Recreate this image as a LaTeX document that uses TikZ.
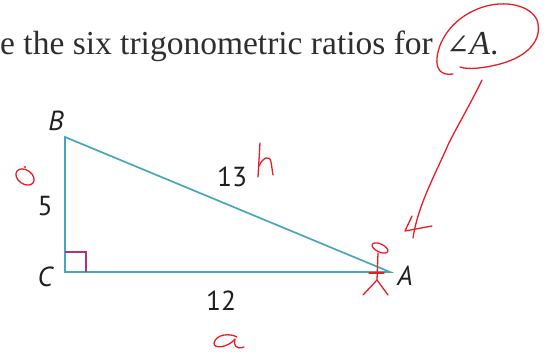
\documentclass[tikz,border=0pt]{standalone}
\usepackage{fontspec}
\setmainfont{Liberation Serif}
\newfontfamily\lblfont{PT Sans}
\newfontfamily\symfont{DejaVu Serif}
\definecolor{tealline}{HTML}{46A7BC}
\definecolor{rtmag}{HTML}{B2327E}
\definecolor{pen}{HTML}{EC1C24}
\begin{document}
\begin{tikzpicture}[x=1pt,y=-1pt,
  side/.style={draw=tealline,line width=1.7pt,line join=miter},
  rtmark/.style={draw=rtmag,line width=1.4pt},
  lbl/.style={font=\lblfont\fontsize{27.5}{30}\selectfont,text=black!88,inner sep=0pt},
  head/.style={font=\fontsize{33.5}{38}\selectfont,text=black!82,inner sep=0pt},
  ink/.style={draw=pen,line width=1.3pt,line cap=round,line join=round}]
\useasboundingbox (0,0) rectangle (551,355);
\clip (0,0) rectangle (551,355);
% heading
\node[head,anchor=base east] (t1) at (433,55) {e the six trigonometric ratios for};
\node[head,anchor=base west] (t2) at (446,55) {{\symfont\fontsize{28}{30}\selectfont ∠}\textit{A}.};
% triangle
\coordinate (B) at (65,137);
\coordinate (C) at (65,272);
\coordinate (A) at (390,272);
\draw[side] (B) -- (C) -- (A) -- cycle;
\draw[rtmark] (65,252) -- (86,252) -- (86,272);
% labels
\node[lbl] (lB) at (56,121) {\itshape B};
\node[lbl] (lC) at (45,277) {\itshape C};
\node[lbl] (lA) at (405,276) {\itshape A};
\node[lbl] (l5) at (45,206) {5};
\node[lbl] (l13) at (232,177) {13};
\node[lbl] (l12) at (221,301) {12};
% red ink: circle around angle A
\draw[ink] (453,74) .. controls (440,76) and (436,68) .. (437,58)
  .. controls (439,38) and (455,16) .. (483,7)
  .. controls (505,0) and (530,5) .. (537,20)
  .. controls (543,38) and (530,56) .. (500,64)
  .. controls (485,68) and (468,70) .. (460,67);
% arrow
\draw[ink] (482,80) .. controls (470,105) and (455,130) .. (448,145)
  .. controls (435,175) and (418,205) .. (413,238);
\draw[ink] (412,216) -- (405,231) -- (432,226);
% O
\draw[ink,rotate around={-35:(25,177)}] (25,177) ellipse (10 and 7);
\fill[pen] (25,167) circle (1.2);
% h
\draw[ink] (260,143) -- (258,177);
\draw[ink] (259,166) .. controls (263,157) and (270,155) .. (271,162) -- (273,175);
% a
\draw[ink] (237,337) .. controls (230,333) and (216,334) .. (214,343)
  .. controls (213,349) and (228,348) .. (235,339)
  .. controls (233,345) and (236,350) .. (244,347);
% stick figure
\draw[ink,rotate around={-25:(380,248)}] (380,248) ellipse (8.5 and 4);
\draw[ink] (378,253) -- (377,280);
\draw[ink] (369,273) -- (384,273);
\draw[ink] (377,280) -- (363,295);
\draw[ink] (377,280) -- (388,295);
\end{tikzpicture}
\end{document}
